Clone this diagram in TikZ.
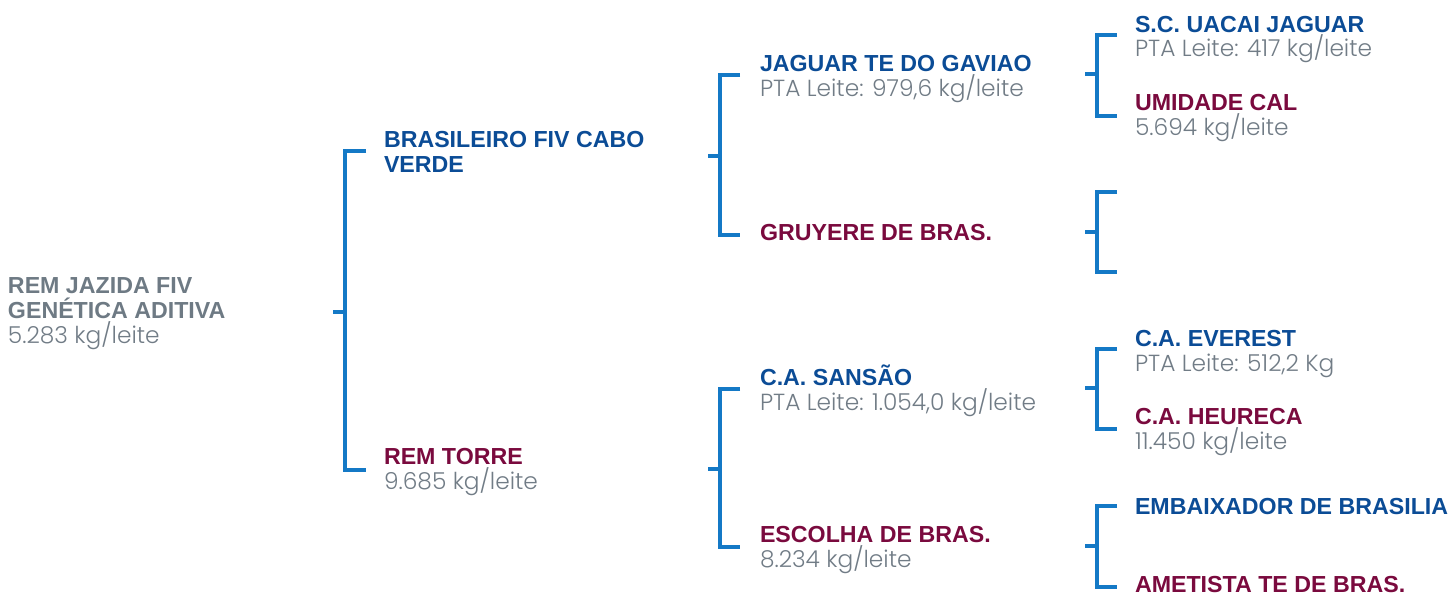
\documentclass[tikz,border=0pt]{standalone}
\usepackage{fontspec}
\setmainfont{Liberation Sans}
\newfontfamily\lightf{Poppins Light}
\definecolor{hblue}{HTML}{0B4C96}
\definecolor{hred}{HTML}{7A0A3E}
\definecolor{hgrey}{HTML}{6E7A84}
\definecolor{lgrey}{HTML}{717C86}
\definecolor{brk}{HTML}{1479C6}
\tikzset{
  lbl/.style={anchor=base west,inner sep=0pt,outer sep=0pt},
  bn/.style={lbl,font=\fontsize{23.2}{25}\selectfont\bfseries,text=hblue},
  rn/.style={lbl,font=\fontsize{23.2}{25}\selectfont\bfseries,text=hred},
  gn/.style={lbl,font=\fontsize{23.2}{25}\selectfont\bfseries,text=hgrey},
  sub/.style={lbl,font=\lightf\fontsize{23.3}{25}\selectfont,text=lgrey},
  bracket/.style={draw=brk,line width=3.6pt,line cap=butt,line join=miter},
}
\begin{document}
\begin{tikzpicture}[x=1pt,y=-1pt]
\useasboundingbox (0,0) rectangle (1450,597);
% texts
\node[gn] (r1) at (8,293) {REM JAZIDA FIV};
\node[gn] (r2) at (8,318) {GENÉTICA ADITIVA};
\node[sub] (r3) at (8,343) {5.283 kg/leite};
\node[bn] (a1) at (384,147) {BRASILEIRO FIV CABO};
\node[bn] (a2) at (384,172) {VERDE};
\node[rn] (b1) at (384,464) {REM TORRE};
\node[sub] (b2) at (384,489) {9.685 kg/leite};
\node[bn] (c1) at (760,71) {JAGUAR TE DO GAVIAO};
\node[sub] (c2) at (760,96) {PTA Leite: 979,6 kg/leite};
\node[rn] (d1) at (760,240) {GRUYERE DE BRAS.};
\node[bn] (e1) at (760,385) {C.A. SANSÃO};
\node[sub] (e2) at (760,410) {PTA Leite: 1.054,0 kg/leite};
\node[rn] (f1) at (760,542) {ESCOLHA DE BRAS.};
\node[sub] (f2) at (760,567) {8.234 kg/leite};
\node[bn] (g1) at (1135,32) {S.C. UACAI JAGUAR};
\node[sub] (g2) at (1135,56) {PTA Leite: 417 kg/leite};
\node[rn] (h1) at (1135,110) {UMIDADE CAL};
\node[sub] (h2) at (1135,135) {5.694 kg/leite};
\node[bn] (i1) at (1135,346) {C.A. EVEREST};
\node[sub] (i2) at (1135,371) {PTA Leite: 512,2 Kg};
\node[rn] (j1) at (1135,424) {C.A. HEURECA};
\node[sub] (j2) at (1135,449) {11.450 kg/leite};
\node[bn] (k1) at (1135,514) {EMBAIXADOR DE BRASILIA};
\node[rn] (l1) at (1135,592) {AMETISTA TE DE BRAS.};
% bracket coordinates
\coordinate (s0) at (333,312);
\coordinate (s1) at (708,156);
\coordinate (s2) at (708,469);
\coordinate (s3) at (1085,74);
\coordinate (s4) at (1085,232);
\coordinate (s5) at (1085,388);
\coordinate (s6) at (1085,546);
% brackets
\draw[bracket] (s0) -- ++(12,0);
\draw[bracket] (366,151) -- (345,151) -- (345,470) -- (366,470);
\draw[bracket] (s1) -- ++(12,0);
\draw[bracket] (740,75) -- (720,75) -- (720,235) -- (740,235);
\draw[bracket] (s2) -- ++(12,0);
\draw[bracket] (740,389) -- (720,389) -- (720,547) -- (740,547);
\draw[bracket] (s3) -- ++(12,0);
\draw[bracket] (1117,35) -- (1097,35) -- (1097,116) -- (1117,116);
\draw[bracket] (s4) -- ++(12,0);
\draw[bracket] (1117,192) -- (1097,192) -- (1097,272) -- (1117,272);
\draw[bracket] (s5) -- ++(12,0);
\draw[bracket] (1117,349) -- (1097,349) -- (1097,429) -- (1117,429);
\draw[bracket] (s6) -- ++(12,0);
\draw[bracket] (1117,506) -- (1097,506) -- (1097,587) -- (1117,587);
\end{tikzpicture}
\end{document}
